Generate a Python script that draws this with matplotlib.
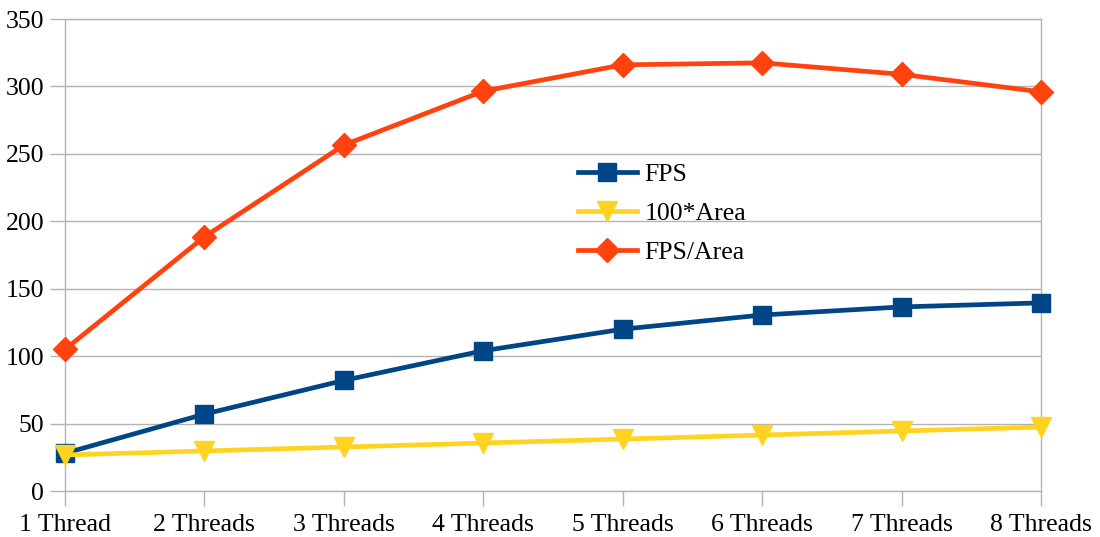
import matplotlib.pyplot as plt

categories = ["1 Thread", "2 Threads", "3 Threads", "4 Threads",
              "5 Threads", "6 Threads", "7 Threads", "8 Threads"]
fps = [28, 57, 82, 104, 120, 130.5, 136.5, 139.5]
area100 = [26.7, 29.7, 32.6, 35.6, 38.5, 41.5, 44.5, 47.4]
fps_per_area = [105, 188.5, 256.5, 296.5, 316, 317.5, 309, 296]

plt.rcParams['font.family'] = ['Liberation Serif', 'DejaVu Serif']

fig = plt.figure(figsize=(11, 5.37), dpi=100)
ax = fig.add_axes([65 / 1100, 1 - 491 / 537, (1041 - 65) / 1100, (491 - 19) / 537])

x = list(range(len(categories)))
ax.plot(x, fps, color="#004586", lw=3.4, marker="s", ms=13.5, label="FPS", zorder=3, clip_on=False)
ax.plot(x, area100, color="#ffd320", lw=3.4, marker="v", ms=14, label="100*Area", zorder=3, clip_on=False)
ax.plot(x, fps_per_area, color="#ff420e", lw=3.4, marker="D", ms=12, label="FPS/Area", zorder=3, clip_on=False)

ax.set_xlim(0, len(categories) - 1)
ax.set_ylim(0, 350)
ax.set_yticks(range(0, 351, 50))
ax.set_xticks(x)
ax.set_xticklabels(categories)
ax.tick_params(labelsize=18.5, color="#b3b3b3", length=11, width=1)
ax.tick_params(axis="x", pad=5.5)
ax.tick_params(axis="y", pad=4)
ax.yaxis.grid(True, color="#b3b3b3", lw=1)
ax.set_axisbelow(True)
for s in ax.spines.values():
    s.set_color("#b3b3b3")
    s.set_linewidth(1)

ax.legend(loc="upper left", bbox_to_anchor=(0.5015, 0.7436), frameon=False,
          fontsize=18.5, handlelength=2.3, labelspacing=0.62, handletextpad=0.3)

fig.savefig("out.png", dpi=100)
